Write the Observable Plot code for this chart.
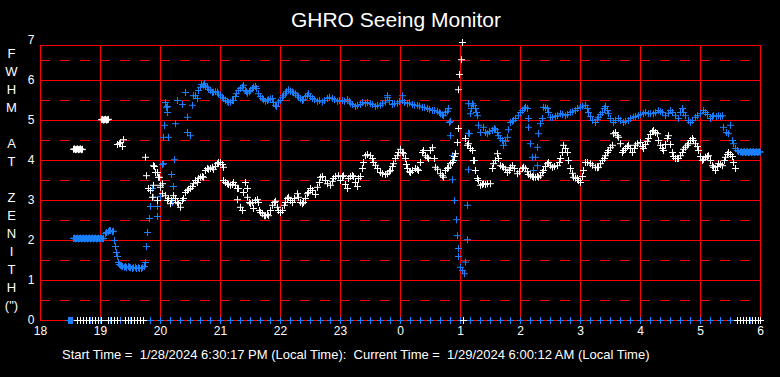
<!DOCTYPE html>
<html><head><meta charset="utf-8">
<script src="https://cdn.jsdelivr.net/npm/d3@7"></script>
<script src="https://cdn.jsdelivr.net/npm/@observablehq/plot@0.6"></script>
<style>
html,body{margin:0;padding:0;background:#000;}
#wrap{width:780px;height:377px;background:#000;color:#fff;font-family:"Liberation Sans",Arial,sans-serif;overflow:hidden;}
#title{height:30px;font-size:21px;line-height:22px;padding-top:9px;box-sizing:border-box;text-align:center;padding-left:12px;white-space:nowrap;}
#chart svg{display:block;}
#caption{height:37px;font-size:13px;line-height:30px;padding-left:62px;white-space:pre;}
</style></head>
<body><div id="wrap">
<div id="title">GHRO Seeing Monitor</div>
<div id="chart"></div>
<div id="caption"></div>
</div>
<script>
// Titles and tick labels
const titleText = "GHRO Seeing Monitor";
const captionText = "Start Time =  1/28/2024 6:30:17 PM (Local Time):  Current Time =  1/29/2024 6:00:12 AM (Local Time)";
const yLabel = "F\nW\nH\nM\n \nA\nT\n \nZ\nE\nN\nI\nT\nH\n(\")";
const xTicks = [18,19,20,21,22,23,24,25,26,27,28,29,30]; // hours since midnight of 1/28 (24 = 0, 30 = 6)
const yTicks = [0,1,2,3,4,5,6,7];
const yHalf = [0.5,1.5,2.5,3.5,4.5,5.5,6.5];

// Blue series: [minutes after 18:00, FWHM]
const blueSeries = [
[33,2.05],[34,2.06],[35,2.04],[36,2.05],[37,2.06],[38,2.04],[39,2.05],[40,2.06],[41,2.04],[42,2.05],[43,2.06],[44,2.04],[45,2.05],[46,2.06],[47,2.04],[48,2.05],
[49,2.06],[50,2.04],[51,2.05],[52,2.06],[53,2.04],[54,2.05],[55,2.06],[56,2.04],[57,2.05],[58,2.06],[59,2.04],[60,2.05],[61,2.06],[62,2.04],[63,2.05],
[65,2.17],[66,2.2],[68,2.22],[69,2.25],[70,2.25],[72,2.22],[73,2.23],[74,2.0],[75,1.85],[76,1.7],[77,1.6],[78,1.45],[79,1.4],[80,1.38],[81,1.36],[82,1.35],[84,1.33],
[85,1.35],[86,1.32],[88,1.35],[89,1.33],[90,1.32],[92,1.3],[93,1.32],[95,1.33],[96,1.3],[98,1.32],[99,1.3],[101,1.3],[102,1.32],[104,1.35],[105,1.45],
[106,1.85],[107,2.2],[109,2.55],[117,2.6],[110,2.85],[117,2.85],[113,3.08],[120,3.1],[112,3.3],[122,3.9],[123,3.92],[134,4.02],[131,3.65],[133,3.35],[132,2.95],
[123,4.58],[128,4.58],[124,4.88],[135,4.92],[125,5.45],[127,5.35],[127,5.2],[126,5.33],[137,5.5],[142,5.4],[145,5.7],[147,5.08],[147,4.7],[150,4.62],[152,5.38],
[153,5.62],[155,5.62],[157,5.55],
[158,5.75],[160,5.83],[161,5.9],[163,5.88],[164,5.92],[165,5.85],[167,5.83],[168,5.78],[170,5.75],[172,5.7],[173,5.71],[175,5.72],[177,5.71],[178,5.66],[180,5.62],
[182,5.58],[183,5.55],[185,5.5],[187,5.48],[188,5.45],[190,5.46],[192,5.5],[193,5.5],[195,5.6],[196,5.67],[198,5.75],[200,5.8],[202,5.83],[203,5.88],[205,5.75],[206,5.72],
[207,5.68],[209,5.72],[210,5.75],[212,5.8],[213,5.83],[215,5.85],[216,5.8],[218,5.67],[220,5.6],[222,5.55],[223,5.52],[225,5.48],[227,5.5],[228,5.52],[230,5.54],[232,5.55],
[233,5.45],[235,5.38],[236,5.35],[238,5.46],[240,5.5],[242,5.58],[243,5.62],[245,5.67],[246,5.72],[248,5.77],[250,5.73],[252,5.71],[253,5.69],[255,5.67],[257,5.62],[258,5.58],
[260,5.54],[262,5.5],[263,5.52],[265,5.6],[267,5.62],[268,5.67],[270,5.6],[272,5.55],[274,5.52],[277,5.48],[279,5.5],[282,5.46],[284,5.5],[287,5.55],[289,5.58],[292,5.55],
[294,5.52],[297,5.48],[299,5.5],[302,5.5],[304,5.48],[307,5.52],[309,5.47],[310,5.43],[312,5.4],[315,5.35],[317,5.38],[320,5.4],[322,5.45],[325,5.43],[327,5.45],[330,5.42],
[332,5.4],[335,5.35],[337,5.38],[340,5.38],[342,5.42],[345,5.46],[347,5.57],[347,5.62],[349,5.5],[352,5.4],[354,5.42],[357,5.43],[359,5.47],[362,5.5],[362,5.62],[364,5.45],
[367,5.42],[369,5.44],[372,5.4],[374,5.38],[377,5.38],[379,5.36],[382,5.33],[384,5.32],[387,5.3],[389,5.28],[392,5.25],[394,5.25],[397,5.23],[399,5.2],[400,5.17],[402,5.14],
[403,5.12],[405,5.2],[407,5.23],[408,5.3],
[409,4.95],[410,4.62],[410,4.98],[412,4.12],[412,3.52],[414,3.0],[416,2.52],[417,2.12],[418,1.8],[418,1.6],[420,1.33],[422,1.25],[424,1.17],[425,1.46],[427,2.02],[427,2.88],
[428,3.77],[428,4.68],[428,5.42],
[430,5.17],[431,5.3],[432,5.42],[433,5.38],[435,5.3],[436,5.2],[437,5.12],[438,4.88],[440,4.7],[443,4.83],[429,4.67],[445,4.7],[447,4.67],[449,4.72],[452,4.75],[454,4.8],
[455,4.77],[457,4.7],[458,4.62],[460,4.55],[462,4.5],[463,4.38],[465,4.48],[467,4.58],[468,4.77],[470,4.95],[472,4.98],[473,5.0],[475,5.05],[478,5.12],[480,5.2],[482,5.25],
[484,5.3],[485,5.33],[487,5.3],[488,5.05],[488,4.83],[490,4.42],[492,4.08],[495,4.08],[493,3.75],[497,3.87],[497,4.33],[498,4.67],[500,4.92],[502,5.05],[503,5.33],[505,5.32],
[507,5.3],[508,5.2],[510,5.08],[512,5.08],[515,5.1],[517,5.12],[520,5.17],[522,5.15],[525,5.12],[527,5.15],[530,5.2],[532,5.22],[535,5.25],[537,5.3],[540,5.33],[542,5.36],
[545,5.38],[547,5.3],[548,5.2],[550,5.1],[552,5.0],[555,4.95],[557,5.03],[558,5.08],[560,5.15],[562,5.2],[564,5.3],[565,5.35],[567,5.25],[568,5.17],[570,5.05],[573,4.95],
[575,5.0],[578,5.05],[580,5.0],[583,4.95],[585,4.98],[588,5.0],[590,5.05],[593,5.08],[595,5.1],[598,5.12],[600,5.15],[603,5.17],[605,5.2],[608,5.17],[610,5.17],[613,5.17],
[615,5.2],[618,5.25],[620,5.22],[622,5.2],[625,5.12],[628,5.18],[630,5.25],[632,5.2],[635,5.12],[638,5.05],[640,5.2],[642,5.3],[643,5.2],[645,5.12],[648,5.0],[650,4.95],
[652,5.0],[655,5.08],[657,5.12],[660,5.17],[663,5.25],[665,5.2],[667,5.15],[670,5.05],[672,5.1],[673,5.12],[676,5.1],[678,5.12],[680,5.1],[682,5.12],
[683,4.83],[686,4.7],[688,4.67],[690,4.88],[692,4.5],[693,4.42],[695,4.3],[697,4.25],[698,4.22],
[700,4.21],[701,4.22],[702,4.2],[703,4.21],[704,4.22],[705,4.2],[706,4.21],[707,4.22],[708,4.2],[709,4.21],[710,4.22],[711,4.2],[712,4.21],[713,4.22],[714,4.2],[715,4.21],
[716,4.22],[717,4.2],[718,4.21],[719,4.22],[720,4.21]
];
// Blue markers on the zero line: minutes after 18:00
const blueZeroMin = [28,29,31,32,30,40,50,60,70,80,90,100,110,120,130,140,150,160,170,180,190,200,210,220,230,240,250,260,270,280,290,300,310,320,330,340,350,360,370,380,390,400,410,420,430,440,450,460,470,480,490,500,510,520,530,540,550,560,570,580,590,600,610,620,630,640,650,660,670,680,690,700,710,720];

// White series: [minutes after 18:00, FWHM]
const whiteSeries = [
[33,4.28],[34,4.29],[35,4.27],[36,4.28],[37,4.29],[38,4.27],[39,4.28],[40,4.29],[41,4.27],[42,4.28],
[61,5.02],[62,5.03],[63,5.01],[64,5.02],[65,5.03],[66,5.01],[67,5.02],[68,5.03],
[77,4.4],[79,4.42],[80,4.45],[82,4.35],[83,4.52],
[105,4.08],[106,3.62],[108,3.3],[110,3.25],[112,3.08],[113,3.38],[113,3.87],[114,3.85],[115,3.7],[117,3.7],[117,3.0],[118,3.58],[119,3.58],[120,3.38],[120,3.33],[122,3.42],
[122,3.17],[125,3.12],[127,3.0],[128,3.05],[130,2.92],[131,3.0],[133,3.12],[135,3.05],[137,2.95],[138,2.92],[140,2.83],[142,3.0],[143,3.05],[145,3.2],[147,3.25],[148,3.28],
[150,3.3],[152,3.35],[153,3.42],[155,3.5],[157,3.45],[158,3.55],[160,3.58],[162,3.6],[163,3.58],[165,3.75],[167,3.8],[168,3.78],[170,3.8],[172,3.83],[173,3.78],[175,3.85],
[177,3.92],[178,3.95],[180,3.95],[182,3.9],[183,3.83],[183,3.5],[185,3.45],[187,3.42],[188,3.4],[190,3.38],[192,3.4],[193,3.45],[195,3.38],[197,3.3],[197,3.02],[198,3.3],
[200,2.83],[202,2.75],[203,3.2],[205,3.45],[207,3.3],[207,3.08],[209,2.95],[210,2.92],[212,2.95],[213,2.8],[215,3.0],[217,3.02],[218,2.95],[219,2.75],[220,2.7],[222,2.67],
[224,2.62],[225,2.62],[227,2.65],[228,2.62],[230,2.75],[232,2.88],[234,2.95],[235,2.98],[237,2.83],[238,2.75],[240,2.7],[242,2.75],[244,2.88],[245,2.95],[247,3.05],[248,3.08],
[250,3.0],[252,2.95],[254,3.05],[257,3.17],[258,3.08],[260,2.95],[262,2.92],[263,2.95],[265,3.05],[267,3.17],[268,3.2],[270,3.3],[272,3.25],[275,3.15],[277,3.33],[279,3.45],
[280,3.58],[282,3.6],[285,3.5],[287,3.42],[290,3.38],[292,3.48],[293,3.55],[295,3.6],[298,3.62],[300,3.5],[302,3.6],[303,3.62],[305,3.4],[307,3.3],[308,3.55],[310,3.6],
[312,3.62],[313,3.6],[315,3.45],[317,3.35],[318,3.55],[320,3.6],[322,3.8],[323,3.95],[325,4.12],[327,4.15],[330,4.12],[332,4.05],[333,3.95],[335,3.88],[337,3.8],[340,3.7],
[342,3.67],[345,3.65],[347,3.67],[349,3.72],[350,3.75],[352,3.85],[353,3.92],[355,4.05],[357,4.12],[358,4.2],[360,4.28],[362,4.2],[363,4.17],[365,4.05],[366,3.9],[367,3.8],
[369,3.72],[370,3.7],[372,3.75],[375,3.8],[377,3.78],[378,3.75],[380,3.95],[382,4.2],[383,4.25],[385,4.12],[387,4.08],[388,4.05],[390,4.25],[392,4.32],[394,4.05],[395,3.83],
[397,3.78],[400,3.67],[402,3.62],[403,3.58],[405,3.75],[407,3.8],[408,3.82],[410,3.92],[412,3.95],[413,4.0],[414,4.1],[415,4.17],[417,4.45],[418,4.8],[418,5.77],[419,6.15],
[421,6.52],[422,6.95],
[425,4.55],[427,4.38],[428,4.42],[430,4.3],[432,4.25],[433,4.0],[434,4.0],[435,3.75],[437,3.55],[438,3.5],[440,3.38],[442,3.4],[443,3.42],[445,3.4],[447,3.42],[450,3.42],
[452,3.8],[453,3.92],[455,4.0],[457,4.17],[458,4.05],[460,3.87],[462,3.85],[463,3.83],[465,3.78],[467,3.7],[469,3.75],[470,3.82],[472,3.87],[474,3.8],[477,3.67],[479,3.72],
[482,3.8],[483,3.83],[485,3.8],[487,3.72],[488,3.65],[490,3.62],[492,3.6],[493,3.58],[495,3.58],[497,3.6],[498,3.58],[500,3.62],[502,3.7],[503,3.75],[505,3.85],[507,3.92],
[508,3.95],[510,3.88],[512,3.83],[514,3.85],[517,3.87],[519,3.95],[520,4.05],[522,4.2],[523,4.38],[525,4.3],[527,4.2],[528,4.0],[530,3.8],[532,3.68],[533,3.58],[535,3.56],
[537,3.55],[538,3.5],[540,3.45],[542,3.6],[543,3.75],[545,3.95],[547,3.95],[550,3.92],[552,3.88],[555,3.83],[557,3.82],[558,3.83],[560,3.92],[562,4.0],[564,4.05],[565,4.12],
[567,4.2],[568,4.25],[570,4.32],[572,4.38],[573,4.67],[575,4.7],[577,4.62],[578,4.58],[580,4.42],[582,4.2],[583,4.25],[585,4.3],[587,4.35],[588,4.38],[590,4.3],[592,4.2],
[594,4.3],[595,4.38],[597,4.42],[600,4.45],[602,4.35],[603,4.3],[605,4.4],[607,4.48],[608,4.55],[610,4.65],[612,4.72],[613,4.75],[615,4.7],[617,4.67],[618,4.5],[620,4.38],
[622,4.3],[623,4.25],[625,4.4],[627,4.55],[628,4.62],[630,4.4],[632,4.2],[633,4.1],[635,4.05],[637,4.05],[638,4.05],[640,4.12],[642,4.2],[643,4.28],[645,4.33],[647,4.38],
[648,4.42],[650,4.5],[652,4.55],[653,4.5],[655,4.42],[657,4.35],[658,4.25],[660,4.1],[662,4.0],[663,4.03],[665,4.08],[667,4.1],[668,4.12],[670,4.0],[672,3.87],[673,3.83],
[675,3.75],[677,3.85],[678,3.92],[680,3.9],[682,3.87],[684,4.0],[685,4.08],[687,4.15],[688,4.2],[690,4.15],[692,4.1],[693,3.95],[695,3.8]
];
// White markers on the zero line: minutes after 18:00
const whiteZeroMin = [37,40,43,46,49,52,55,58,61,68,71,74,77,85,88,91,94,97,100,103,423,697,700,703,706,709,712,715,718,720];

const blueColor = "#1a80ff";
const toHour = m => 18 + m / 60;
const blueData = blueSeries.map(([m, v]) => ({t: toHour(m), v}))
  .concat(blueZeroMin.map(m => ({t: toHour(m), v: 0})));
const whiteData = whiteSeries.map(([m, v]) => ({t: toHour(m), v}))
  .concat(whiteZeroMin.map(m => ({t: toHour(m), v: 0})));

document.getElementById("title").textContent = titleText;
document.getElementById("caption").textContent = captionText;

const chart = Plot.plot({
  width: 780,
  height: 310,
  marginLeft: 40,
  marginRight: 20,
  marginTop: 10,
  marginBottom: 20,
  style: {background: "#000", color: "#fff", fontFamily: "'Liberation Sans', Arial, sans-serif", fontSize: "12px", overflow: "visible"},
  x: {domain: [18, 30], ticks: xTicks, tickFormat: d => String(d % 24), tickSize: 0, tickPadding: 6, label: null},
  y: {domain: [0, 7], ticks: yTicks, tickFormat: d => String(d), tickSize: 0, tickPadding: 6, label: null},
  marks: [
    Plot.ruleY(yHalf, {stroke: "red", strokeWidth: 1, strokeDasharray: "10,10"}),
    Plot.ruleY(yTicks.filter(d => d > 0 && d < 7), {stroke: "red", strokeWidth: 1}),
    Plot.ruleX(xTicks, {stroke: "red", strokeWidth: 1, insetTop: 5}),
    Plot.frame({stroke: "red", strokeWidth: 1, insetTop: 5}),
    Plot.dot(blueData, {x: "t", y: "v", symbol: "plus", r: 2.4, stroke: blueColor, fill: "none", strokeWidth: 1}),
    Plot.dot(whiteData, {x: "t", y: "v", symbol: "plus", r: 2.4, stroke: "#fff", fill: "none", strokeWidth: 1}),
    Plot.text([yLabel], {frameAnchor: "left", dx: -29, dy: -2, lineHeight: 1.385, fontSize: 13, fill: "#fff", textAnchor: "middle"})
  ]
});
document.getElementById("chart").appendChild(chart);
</script>
</body></html>
